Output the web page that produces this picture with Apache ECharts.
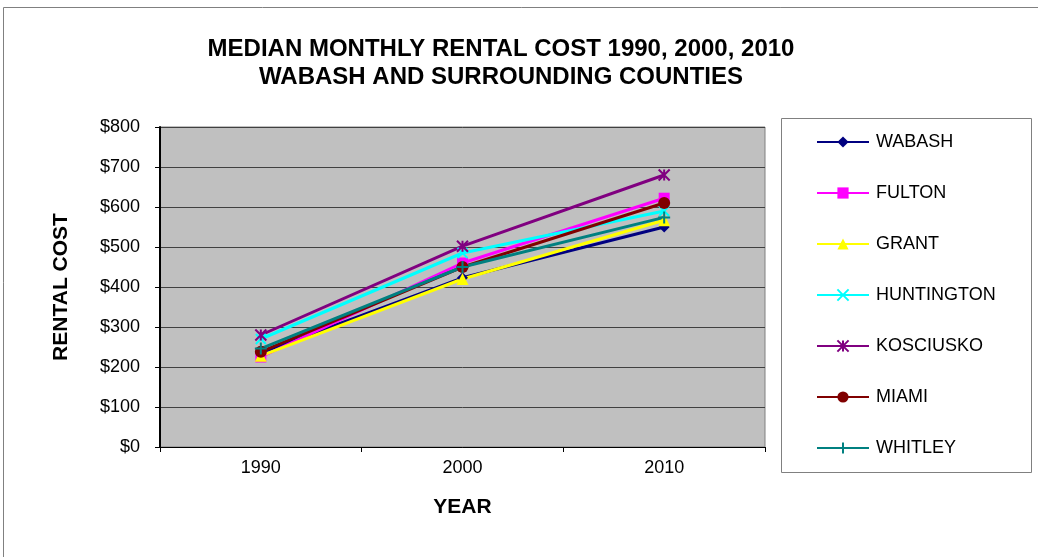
<!DOCTYPE html>
<html>
<head>
<meta charset="utf-8">
<script src="https://cdn.jsdelivr.net/npm/echarts@6/dist/echarts.min.js"></script>
<style>
  html, body { margin: 0; padding: 0; background: #fff; }
  #chart { width: 1038px; height: 557px; }
</style>
</head>
<body>
<div id="chart"></div>
<script>
var years = ["1990", "2000", "2010"];
var yTicks = ["$0", "$100", "$200", "$300", "$400", "$500", "$600", "$700", "$800"];

var wabash = [235, 423, 550];
var fulton = [225, 460, 622];
var grant = [228, 420, 567];
var huntington = [270, 485, 590];
var kosciusko = [280, 502, 680];
var miami = [238, 450, 610];
var whitley = [246, 450, 574];

var names = ["WABASH", "FULTON", "GRANT", "HUNTINGTON", "KOSCIUSKO", "MIAMI", "WHITLEY"];
var colors = ["#000080", "#FF00FF", "#FFFF00", "#00FFFF", "#800080", "#800000", "#008080"];
var values = [wabash, fulton, grant, huntington, kosciusko, miami, whitley];

// marker shapes, like the spreadsheet ones
var symbols = [
  { symbol: "diamond", size: 11, stroke: false },
  { symbol: "rect", size: 11, stroke: false },
  { symbol: "triangle", size: 12, stroke: false },
  { symbol: "path://M0,0L10,10M10,0L0,10", size: 10, stroke: true },
  { symbol: "path://M0,0L10,10M10,0L0,10M5,0L5,10", size: 11, stroke: true },
  { symbol: "circle", size: 12, stroke: false },
  { symbol: "path://M5,0L5,10M0,5L10,5", size: 12, stroke: true }
];

var chart = echarts.init(document.getElementById("chart"), null, { renderer: "canvas" });

var series = names.map(function (n, i) {
  var s = symbols[i];
  return {
    name: n,
    type: "line",
    data: values[i],
    symbol: s.symbol,
    symbolSize: s.size,
    showSymbol: true,
    animation: false,
    lineStyle: { color: colors[i], width: 3 },
    itemStyle: {
      color: colors[i],
      borderColor: colors[i],
      borderWidth: s.stroke ? 2 : 0
    },
    emphasis: { disabled: true }
  };
});

var option = {
  animation: false,
  backgroundColor: "#ffffff",
  textStyle: { fontFamily: "Liberation Sans, Arial, sans-serif" },
  title: {
    text: "MEDIAN MONTHLY RENTAL COST 1990, 2000, 2010\nWABASH AND SURROUNDING COUNTIES",
    left: 501,
    top: 35,
    textAlign: "center",
    padding: 0,
    textStyle: {
      fontSize: 24,
      fontWeight: "bold",
      color: "#000",
      lineHeight: 28,
      fontFamily: "Liberation Sans, Arial, sans-serif"
    }
  },
  grid: {
    left: 160,
    right: 273,
    top: 127,
    bottom: 110,
    show: true,
    backgroundColor: "#C0C0C0",
    borderColor: "#808080",
    borderWidth: 1
  },
  legend: {
    orient: "vertical",
    left: 816,
    top: 133,
    padding: 0,
    itemWidth: 52,
    itemHeight: 14,
    itemGap: 33,
    data: names,
    lineStyle: { width: 2 },
    textStyle: { fontSize: 18, color: "#000", padding: [0, 0, 0, 2] },
    selectedMode: false
  },
  graphic: [
    {
      type: "rect",
      shape: { x: 3.5, y: 7.5, width: 1100, height: 600 },
      style: { fill: "none", stroke: "#808080", lineWidth: 1 },
      silent: true
    },
    {
      type: "rect",
      shape: { x: 781.5, y: 118.5, width: 250, height: 354 },
      style: { fill: "#fff", stroke: "#808080", lineWidth: 1 },
      silent: true,
      z: -1
    }
  ],
  xAxis: {
    type: "category",
    data: years,
    boundaryGap: true,
    name: "YEAR",
    nameLocation: "middle",
    nameGap: 50,
    nameTextStyle: { fontSize: 21, fontWeight: "bold", color: "#000" },
    axisLine: { lineStyle: { color: "#000", width: 1 } },
    axisTick: { show: true, length: 5, lineStyle: { color: "#000" } },
    axisLabel: { fontSize: 18, color: "#000", margin: 12 },
    splitLine: { show: false }
  },
  yAxis: {
    type: "value",
    min: 0,
    max: 800,
    interval: 100,
    name: "RENTAL COST",
    nameLocation: "middle",
    nameGap: 88,
    nameTextStyle: { fontSize: 21, fontWeight: "bold", color: "#000" },
    axisLine: { show: true, lineStyle: { color: "#000", width: 2 } },
    axisTick: { show: true, length: 5, lineStyle: { color: "#000" } },
    axisLabel: {
      fontSize: 18,
      color: "#000",
      margin: 20,
      formatter: function (v) { return yTicks[Math.round(v / 100)]; }
    },
    splitLine: { show: true, lineStyle: { color: "#404040", width: 1 } }
  },
  series: series
};

chart.setOption(option);
</script>
</body>
</html>
